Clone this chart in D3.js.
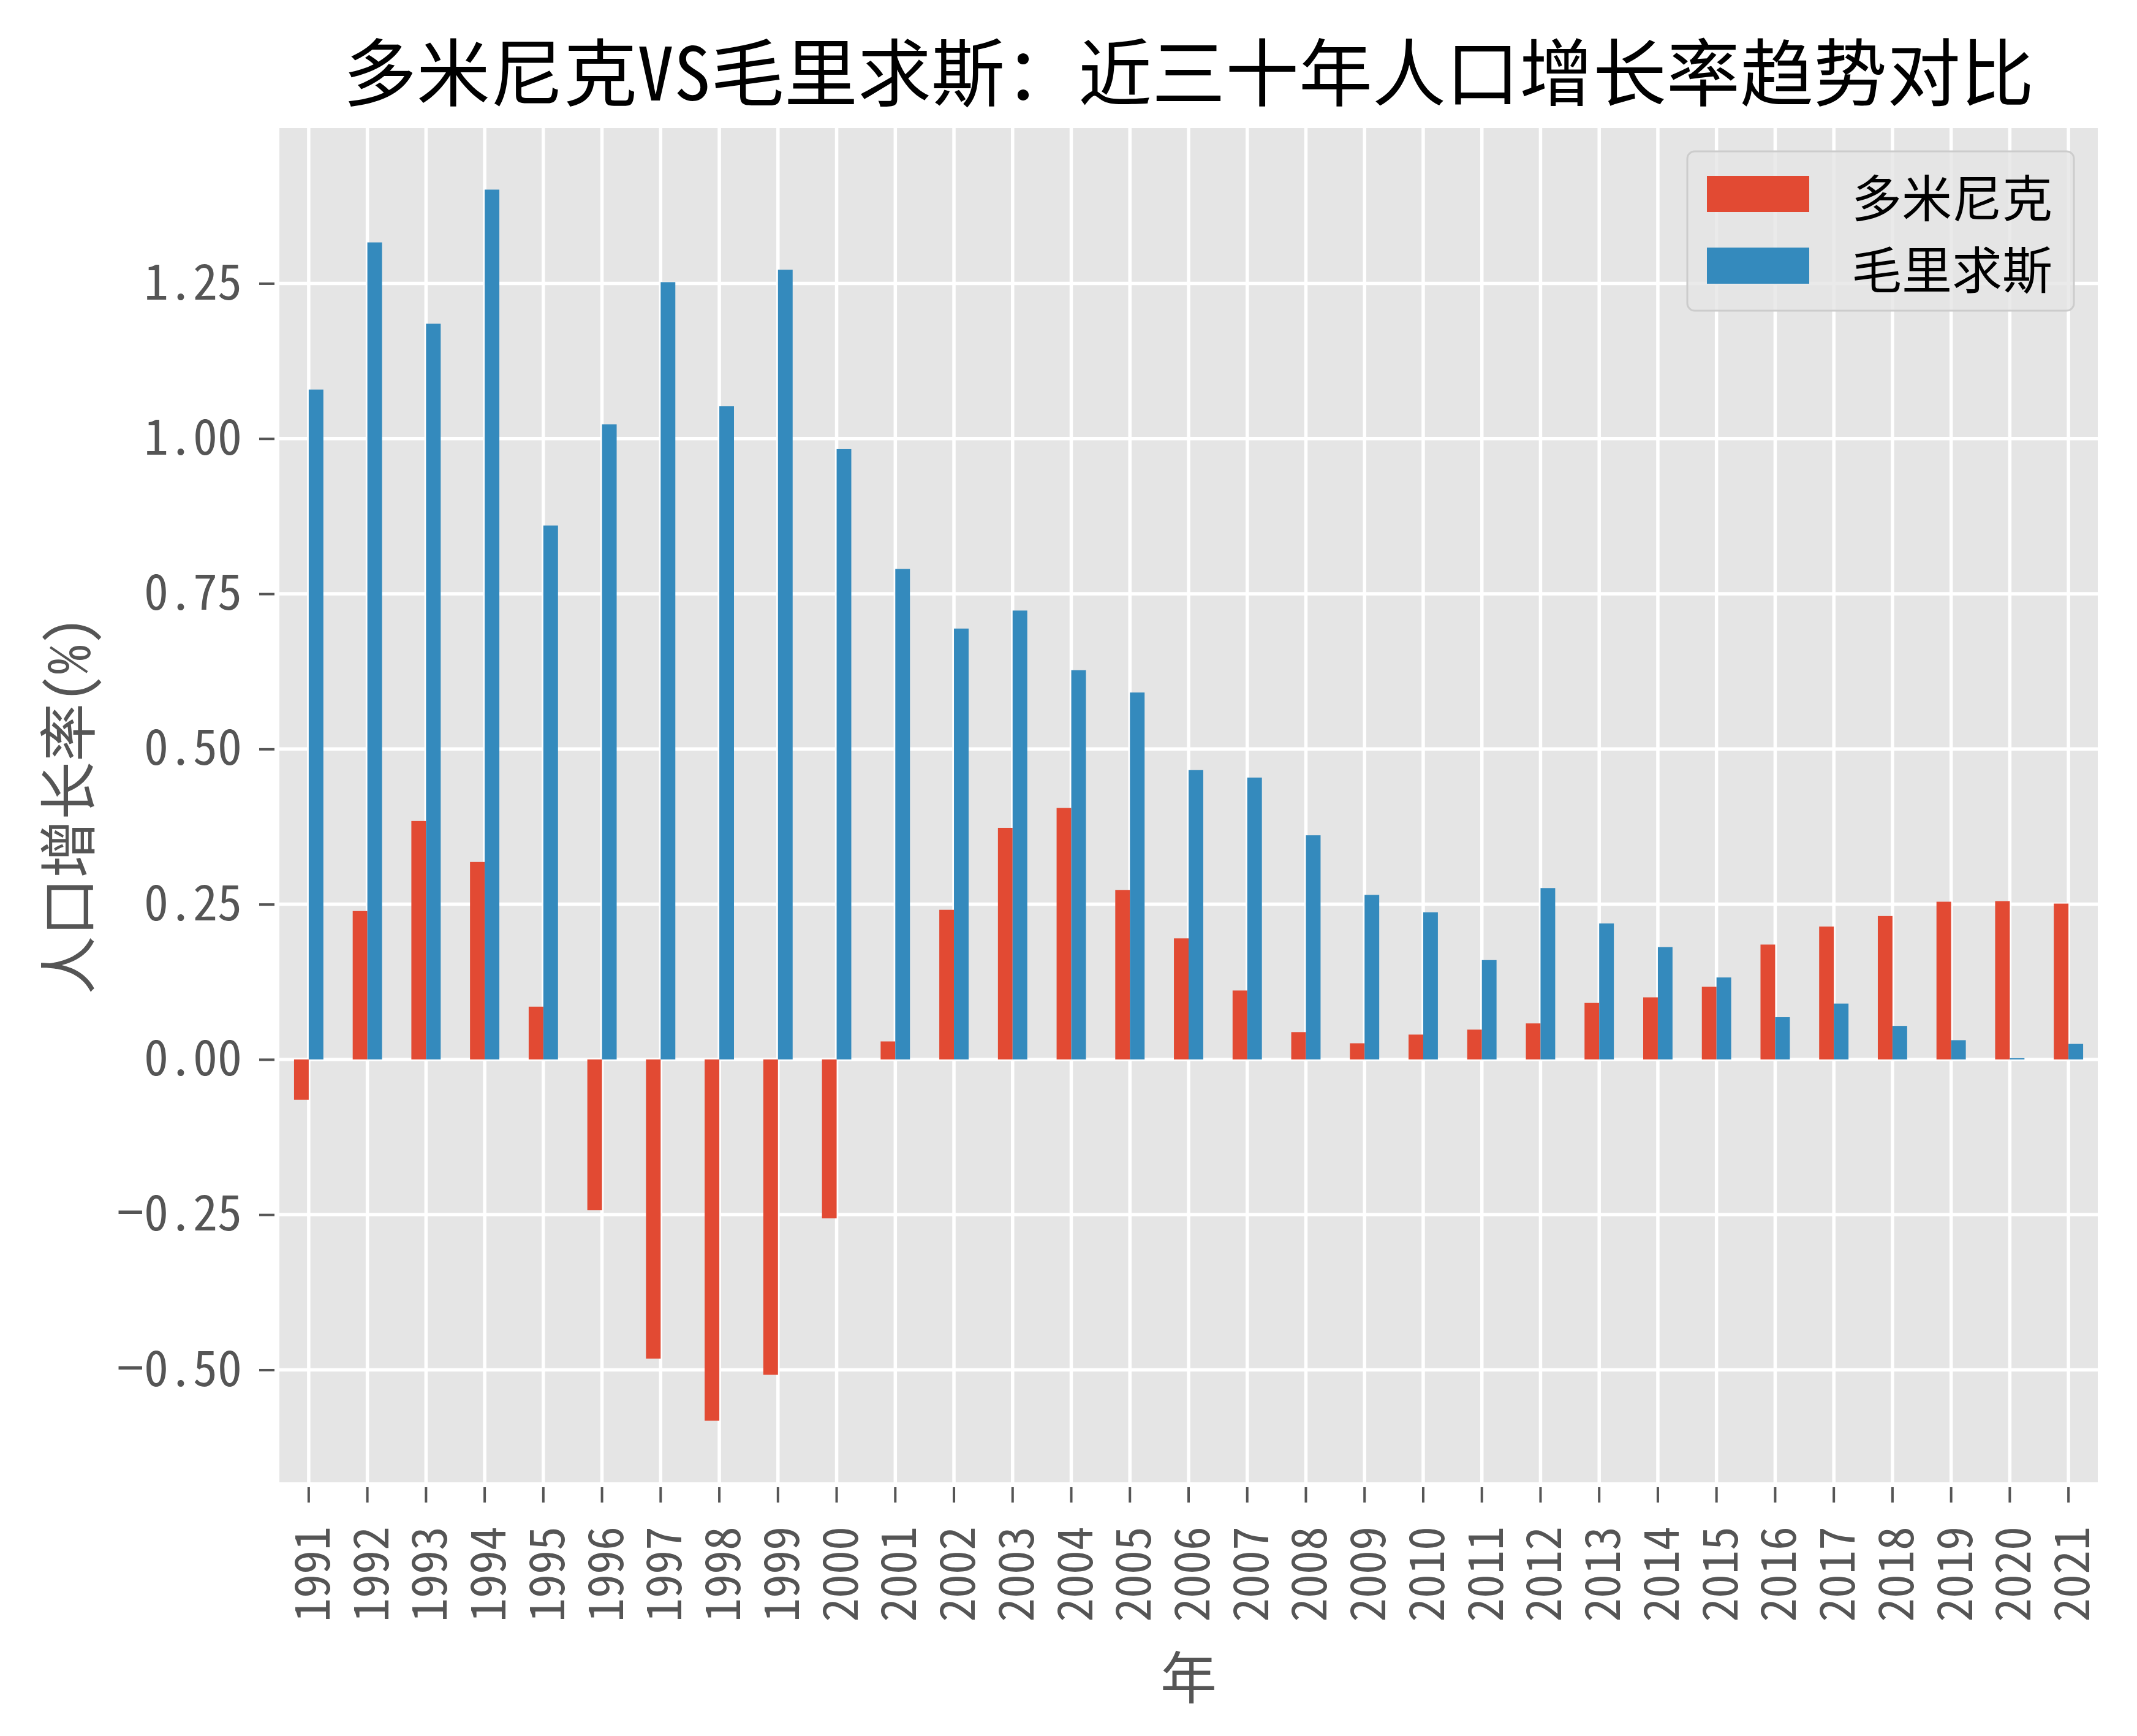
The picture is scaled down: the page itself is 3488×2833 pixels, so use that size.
<!DOCTYPE html>
<html>
<head>
<meta charset="utf-8">
<script src="https://cdn.jsdelivr.net/npm/d3@7"></script>
<style>
  html, body { margin: 0; padding: 0; background: #ffffff; }
  svg text { font-family: "Noto Sans CJK SC", "Noto Sans", sans-serif; font-feature-settings: "hwid" 1; }
</style>
</head>
<body>
<svg id="chart" width="3488" height="2833"></svg>
<script>
const years = [1991,1992,1993,1994,1995,1996,1997,1998,1999,2000,2001,2002,2003,2004,2005,2006,2007,2008,2009,2010,2011,2012,2013,2014,2015,2016,2017,2018,2019,2020,2021];
const seriesNames = ["多米尼克", "毛里求斯"];
const dominica = [-0.065,0.239,0.384,0.318,0.085,-0.243,-0.482,-0.582,-0.508,-0.256,0.029,0.241,0.373,0.405,0.273,0.195,0.111,0.044,0.026,0.040,0.048,0.058,0.091,0.100,0.117,0.185,0.214,0.231,0.254,0.255,0.251];
const mauritius = [1.079,1.316,1.185,1.401,0.860,1.023,1.252,1.052,1.272,0.983,0.790,0.694,0.723,0.627,0.591,0.466,0.454,0.361,0.265,0.237,0.160,0.276,0.219,0.181,0.132,0.068,0.090,0.054,0.031,0.002,0.025];
const yTicks = [-0.5,-0.25,0,0.25,0.5,0.75,1.0,1.25];
const titleText = "多米尼克VS毛里求斯：近三十年人口增长率趋势对比";
const xLabel = "年";
const yLabel = "人口增长率(%)";
const colors = ["#E24A33", "#348ABD"];

const svg = d3.select("#chart");
const plot = {left: 456, right: 3424, top: 209, bottom: 2419};

const allVals = dominica.concat(mauritius);
const vmin = d3.min(allVals), vmax = d3.max(allVals);
const pad = (vmax - vmin) * 0.05;

const x = d3.scaleBand().domain(years).range([plot.left, plot.right]).paddingInner(0).paddingOuter(0);
const y = d3.scaleLinear().domain([vmin - pad, vmax + pad]).range([plot.bottom, plot.top]);

// background
svg.append("rect").attr("x", plot.left).attr("y", plot.top)
  .attr("width", plot.right - plot.left).attr("height", plot.bottom - plot.top)
  .attr("fill", "#E5E5E5");

// grid
const grid = svg.append("g");
grid.selectAll("line.h").data(yTicks).join("line")
  .attr("x1", plot.left).attr("x2", plot.right)
  .attr("y1", d => y(d)).attr("y2", d => y(d))
  .attr("stroke", "#ffffff").attr("stroke-width", 5.5);
grid.selectAll("line.v").data(years).join("line")
  .attr("x1", d => x(d) + x.bandwidth() / 2).attr("x2", d => x(d) + x.bandwidth() / 2)
  .attr("y1", plot.top).attr("y2", plot.bottom)
  .attr("stroke", "#ffffff").attr("stroke-width", 5.5);

// bars
const bw = x.bandwidth() * 0.25;
const series = [dominica, mauritius];
series.forEach((vals, si) => {
  svg.append("g").selectAll("rect").data(vals.map((v, i) => ({year: years[i], v}))).join("rect")
    .attr("x", d => x(d.year) + x.bandwidth() / 2 - bw + si * bw)
    .attr("width", bw)
    .attr("y", d => Math.min(y(d.v), y(0)))
    .attr("height", d => Math.abs(y(d.v) - y(0)))
    .attr("fill", colors[si]);
});

// y axis
const yAxis = d3.axisLeft(y).tickValues(yTicks).tickFormat(d3.format(".2f")).tickSize(25).tickPadding(28);
const gy = svg.append("g").attr("transform", `translate(${plot.left - 8},0)`).call(yAxis);
gy.select(".domain").remove();
gy.selectAll(".tick line").attr("stroke", "#555555").attr("stroke-width", 4);
gy.selectAll(".tick text").attr("fill", "#555555").attr("font-size", 80)
  .attr("font-family", "'Noto Sans CJK SC', sans-serif");

// x axis
const xAxis = d3.axisBottom(x).tickSize(25).tickPadding(0);
const gx = svg.append("g").attr("transform", `translate(0,${plot.bottom + 8})`).call(xAxis);
gx.select(".domain").remove();
gx.selectAll(".tick line").attr("stroke", "#555555").attr("stroke-width", 4);
gx.selectAll(".tick text").attr("fill", "#555555").attr("font-size", 78)
  .attr("text-anchor", "end").attr("dy", null).attr("y", 0)
  .attr("transform", "translate(0,64) rotate(-90)")
  .attr("dominant-baseline", "central");

// title
svg.append("text").attr("x", (plot.left + plot.right) / 2).attr("y", 112)
  .attr("text-anchor", "middle").attr("dominant-baseline", "central")
  .attr("font-size", 120).attr("font-weight", 400).attr("fill", "#000000")
  .text(titleText);

// axis labels
svg.append("text").attr("x", (plot.left + plot.right) / 2).attr("y", 2731)
  .attr("text-anchor", "middle").attr("dominant-baseline", "central")
  .attr("font-size", 92).attr("fill", "#555555").text(xLabel);
svg.append("text").attr("transform", `translate(105,${(plot.top + plot.bottom) / 2}) rotate(-90)`)
  .attr("text-anchor", "middle").attr("dominant-baseline", "central")
  .attr("font-size", 95).attr("fill", "#555555").text(yLabel);

// legend
const lg = svg.append("g");
lg.append("rect").attr("x", 2754).attr("y", 247).attr("width", 631).attr("height", 260)
  .attr("rx", 12).attr("fill", "#E5E5E5").attr("fill-opacity", 0.8)
  .attr("stroke", "#CCCCCC").attr("stroke-width", 3);
seriesNames.forEach((name, i) => {
  const cy = 316 + i * 117;
  lg.append("rect").attr("x", 2786).attr("y", cy - 29).attr("width", 167).attr("height", 59)
    .attr("fill", colors[i]);
  lg.append("text").attr("x", 3022).attr("y", cy + 2).attr("dominant-baseline", "central")
    .attr("font-size", 82).attr("fill", "#000000").text(name);
});
</script>
</body>
</html>
